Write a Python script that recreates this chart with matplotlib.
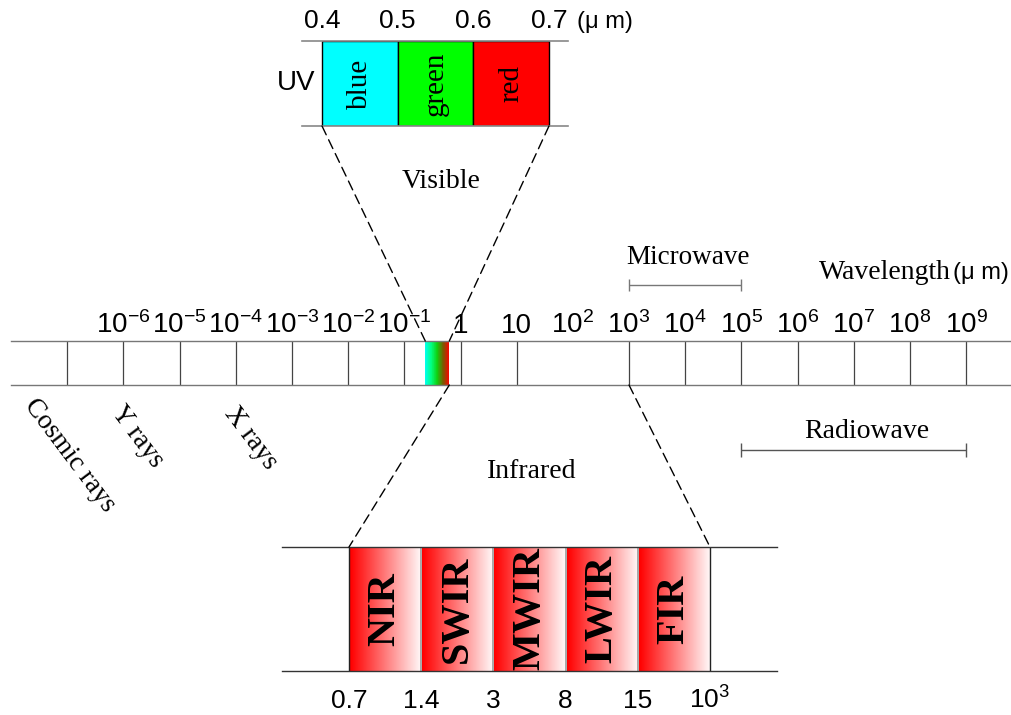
import numpy as np
import matplotlib
matplotlib.use('Agg')
import matplotlib.pyplot as plt
from matplotlib.colors import LinearSegmentedColormap
from matplotlib.patches import ConnectionPatch
from matplotlib.ticker import NullLocator

SANS = 'Liberation Sans'
SERIF = 'Liberation Serif'
plt.rcParams['font.family'] = [SANS, 'DejaVu Sans']
plt.rcParams['mathtext.fontset'] = 'custom'
plt.rcParams['mathtext.rm'] = SANS
plt.rcParams['mathtext.it'] = SANS + ':italic'
plt.rcParams['mathtext.bf'] = SANS + ':bold'

# main wavelength scale, exponents of 10 (um)
decades = [-6, -5, -4, -3, -2, -1, 0, 1, 2, 3, 4, 5, 6, 7, 8, 9]
decade_lines = [-7, -6, -5, -4, -3, -2, -1, 0, 1, 3, 4, 5, 6, 7, 8, 9]
decade_labels = ['1' if e == 0 else '10' if e == 1 else r'$10^{%d}$' % e for e in decades]
band_um = (0.236, 0.632)        # visible band as drawn on the scale
microwave_um = (1e3, 1e5)
radiowave_um = (1e5, 1e9)

# visible zoom
vis_edges = [0.4, 0.5, 0.6, 0.7]
vis_names = ['blue', 'green', 'red']
vis_colors = ['#00ffff', '#00ff00', '#ff0000']

# infrared zoom
ir_labels = ['0.7', '1.4', '3', '8', '15', r'$10^3$']
ir_names = ['NIR', 'SWIR', 'MWIR', 'LWIR', 'FIR']

W, H = 1011, 715
fig = plt.figure(figsize=(W / 100, H / 100), dpi=100)


def px_axes(x0, y0, x1, y1):
    return fig.add_axes([x0 / W, 1 - y1 / H, (x1 - x0) / W, (y1 - y0) / H])


# background for free text
ax_bg = px_axes(0, 0, W, H)
ax_bg.set_xlim(0, W)
ax_bg.set_ylim(H, 0)
ax_bg.axis('off')

# ---- main bar ----
ax_bar = px_axes(0, 341, W, 385)
ax_bar.set_xscale('log')
ppd, e0 = 56.17, 460.5
xlim_bar = (10 ** (-e0 / ppd), 10 ** ((W - e0) / ppd))
for s in ['left', 'right']:
    ax_bar.spines[s].set_visible(False)
for s in ['top', 'bottom']:
    ax_bar.spines[s].set_color('#777')
    ax_bar.spines[s].set_linewidth(1)
    ax_bar.spines[s].set_bounds(1e-8, xlim_bar[1])
ax_bar.vlines([10.0 ** e for e in decade_lines], 385, 341, color='#444', lw=0.9)

band_cmap = LinearSegmentedColormap.from_list(
    'vis', ['#00ffea', '#00ff80', '#10d010', '#7a5a00', '#ff0000'])
xg = np.geomspace(band_um[0], band_um[1], 61)
ax_bar.pcolormesh(xg, [385, 341], np.arange(60).reshape(1, -1), cmap=band_cmap, shading='flat')
ax_bar.set_xlim(*xlim_bar)
ax_bar.set_ylim(385, 341)

ax_bar.xaxis.tick_top()
ax_bar.set_xticks([10.0 ** e for e in decades], decade_labels)
ax_bar.xaxis.set_minor_locator(NullLocator())
ax_bar.tick_params(axis='x', length=0, pad=1.7, labelsize=20)
ax_bar.set_yticks([])

# brackets
ax_bar.hlines(285, *microwave_um, color='#777', lw=1, clip_on=False)
ax_bar.vlines(microwave_um, 279, 291, color='#777', lw=1, clip_on=False)
ax_bar.hlines(450, *radiowave_um, color='#555', lw=1, clip_on=False)
ax_bar.vlines(radiowave_um, 443, 457, color='#555', lw=1, clip_on=False)

# ---- visible zoom ----
ax_vis = px_axes(302, 41, 568, 126)
ax_vis.bar(vis_edges[:-1], 1, width=np.diff(vis_edges), align='edge',
           color=vis_colors, edgecolor='black', lw=1)
ax_vis.set_xlim(0.4 - 20 / 756.7, 0.7 + 19 / 756.7)
ax_vis.set_ylim(0, 1)
for s in ['left', 'right']:
    ax_vis.spines[s].set_visible(False)
for s in ['top', 'bottom']:
    ax_vis.spines[s].set_color('#888')
    ax_vis.spines[s].set_linewidth(1.2)
ax_vis.set_xticks(vis_edges, [f'{v:.1f}' for v in vis_edges])
ax_vis.tick_params(axis='x', length=0, pad=5.5, labelsize=19, top=True, labeltop=True,
                   bottom=False, labelbottom=False)
ax_vis.set_yticks([])
for x0, x1, name in zip(vis_edges[:-1], vis_edges[1:], vis_names):
    ax_vis.text((x0 + x1) / 2, 0.5, name, rotation=90, ha='center', va='center',
                family=SERIF, fontsize=21)
ax_vis.text(0.366, 0.5, 'UV', ha='center', va='center', fontsize=20)
ax_vis.annotate('(μ m)', xy=(0.7, 1), xycoords=('data', 'axes fraction'),
                xytext=(56, 19), textcoords='offset pixels', ha='center', va='center',
                fontsize=17)

# ---- infrared zoom ----
ax_ir = px_axes(282, 547, 777, 671)
ir_cmap = LinearSegmentedColormap.from_list('ir', ['#ff0000', '#fff6f6'])
grad = np.linspace(0, 1, 100).reshape(1, -1)
for i, name in enumerate(ir_names):
    ax_ir.imshow(grad, extent=(i + 0.015, i + 0.985, 0, 1), cmap=ir_cmap, aspect='auto')
    ax_ir.text(i + 0.5, 0.5, name, rotation=90, ha='center', va='center',
               family=SERIF, fontweight='bold', fontsize=29)
ax_ir.vlines(range(1, len(ir_names)), 0, 1, color='#999', lw=1.2)
ax_ir.vlines([0, len(ir_names)], 0, 1, color='#222', lw=1)
ax_ir.set_xlim(-0.928, 5.928)
ax_ir.set_ylim(0, 1)
for s in ['left', 'right']:
    ax_ir.spines[s].set_visible(False)
for s in ['top', 'bottom']:
    ax_ir.spines[s].set_color('#333')
    ax_ir.spines[s].set_linewidth(1)
ax_ir.set_xticks(range(len(ir_labels)), ir_labels)
ax_ir.tick_params(axis='x', length=0, pad=27, labelsize=19)
plt.setp(ax_ir.get_xticklabels(), va='baseline')
ax_ir.set_yticks([])

# ---- dashed connectors ----
links = [
    ((0.4, 0), ax_vis, (band_um[0], 341), ax_bar),
    ((0.7, 0), ax_vis, (band_um[1], 341), ax_bar),
    ((band_um[1], 385), ax_bar, (0, 1), ax_ir),
    ((1e3, 385), ax_bar, (len(ir_names), 1), ax_ir),
]
for xyA, axA, xyB, axB in links:
    con = ConnectionPatch(xyA=xyA, coordsA=axA.transData, xyB=xyB, coordsB=axB.transData,
                          linestyle=(0, (7, 4)), lw=1, color='black')
    fig.add_artist(con)

# ---- free labels ----
ax_bg.text(441, 182, 'Visible', ha='center', va='center', family=SERIF, fontsize=20)
ax_bg.text(532, 471, 'Infrared', ha='center', va='center', family=SERIF, fontsize=20)
ax_bg.text(688, 258, 'Microwave', ha='center', va='center', family=SERIF, fontsize=19.5)
ax_bg.text(867, 432, 'Radiowave', ha='center', va='center', family=SERIF, fontsize=20)
ax_bg.text(951, 279, 'Wavelength', ha='right', va='baseline', family=SERIF, fontsize=20)
ax_bg.text(953, 279, '(μ m)', ha='left', va='baseline', fontsize=17)
for txt, x, y in [('Cosmic rays', 70, 455), ('Y rays', 137, 437), ('X rays', 251, 438)]:
    ax_bg.text(x, y, txt, rotation=-53, ha='center', va='center', family=SERIF, fontsize=19.5)

fig.savefig('out.png', dpi=100, facecolor='white')
